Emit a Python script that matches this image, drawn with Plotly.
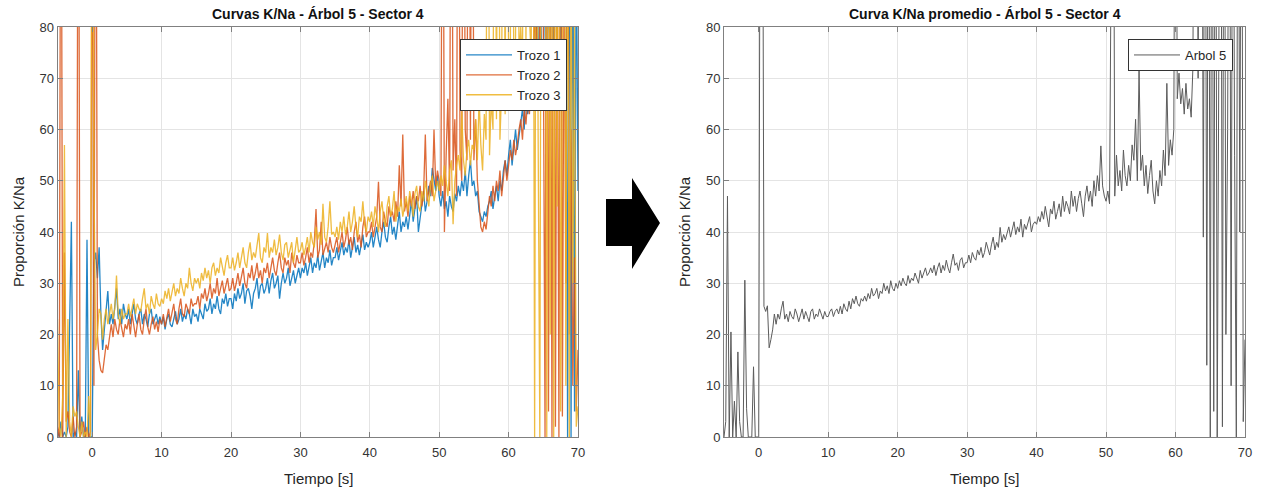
import plotly.graph_objects as go

# sampling grid of the recorded curves (seconds)
t_start = -5.0
t_step = 0.25

# Trozo 1 (blue)
trozo1 = [
    1, 0, 3, 0, 1, 0, 2, 26, 42, 0, 1, 0, 13, 0, 4, 0, 0, 38.5, 0, 0,
    0, 34, 36, 31, 37, 24, 17, 21, 25, 28.5, 22, 24, 22, 26, 29, 23, 25, 22, 26, 24,
    23, 25, 22, 24, 26, 23, 22, 24, 25, 22, 24, 23, 21.5, 24, 25, 22, 23, 24, 22, 23.5,
    22, 23.5, 21, 23, 24, 22, 21.5, 23, 24.5, 22, 23, 25, 22.5, 24, 23, 25, 24, 22, 25, 23.5,
    24, 22.5, 25, 24, 23, 26, 24.5, 25, 27, 24, 26, 25, 27.5, 25, 24, 27, 26, 28, 25.5, 27,
    27, 25, 28, 26.5, 29, 27, 28, 30, 26, 28.5, 29, 27.5, 25, 28, 29, 31, 27, 29.5, 30, 28,
    29, 31, 28, 30.5, 32, 29, 30, 31.5, 27, 30, 32, 30, 31, 33, 29.5, 31, 32.5, 30, 31.5, 33,
    31, 33, 32, 34, 31.5, 33.5, 35, 32, 34, 33, 35.5, 32.5, 34, 36, 33, 35, 34, 36.5, 33.5, 35,
    35, 37, 34.5, 36, 38, 35.5, 37, 36, 38.5, 35, 37, 39, 36, 37.5, 35.5, 38, 39.5, 36.5, 38, 37,
    38, 40, 37, 39, 41, 38.5, 37, 40, 42, 39, 38, 41, 43, 39.5, 41, 38.5, 42, 44, 40, 42,
    41, 43, 40.5, 44, 46, 42, 44.5, 47, 40, 43, 45, 48, 44, 46, 49, 47, 52.5, 50, 48, 51,
    47, 45, 48, 44.5, 46, 43, 47, 45, 44, 47.5, 46, 49, 47, 50, 48, 52, 47, 51, 54, 49,
    50, 47, 48, 44, 43, 42, 44, 43, 45, 46, 48, 44.5, 47, 49, 46, 50, 48, 52, 54, 51,
    55, 58, 53, 57, 60, 56, 59, 62, 64, 60, 68, 63, 66, 70, 64, 72, 85, 68, 90, 75,
    70, 95, 66, 88, 74, 100, 69, 92, 78, 110, 72, 95, 80, 120, 0, 120, 0, 110, 5, 100,
    48,
]

# Trozo 2 (orange)
trozo2 = [
    2, 0, 150, 0, 36, 3, 5, 1, 0, 4, 0, 2, 150, 0, 1, 3, 0, 2, 0, 1,
    120, 10, 150, 20, 15, 13, 12.5, 15, 18, 17, 20, 22, 19.5, 23, 21, 20, 23, 21, 19.5, 22,
    21, 23, 20, 24, 22, 19.5, 22, 24, 21, 20, 23, 25, 21.5, 20, 22, 23.5, 21, 22.5, 20.5, 23,
    22, 24, 21.5, 23, 25, 22.5, 24, 26, 23, 22, 25, 27, 24, 23.5, 26, 25, 24, 27, 25.5, 26,
    26, 27.5, 25, 28, 27, 29, 26.5, 28, 30, 27, 29, 28, 31, 27.5, 29, 30.5, 28, 29.5, 31, 28.5,
    29, 31, 28.5, 30, 32, 29.5, 31, 33, 30, 29, 32, 31, 33.5, 30.5, 32, 34, 31, 32.5, 30, 33,
    32, 34, 31, 33, 35, 32.5, 31.5, 34, 36, 33, 32, 35, 33.5, 34.5, 32, 36, 34, 33, 35.5, 34,
    34, 36, 33.5, 35, 37, 34, 36, 35, 38, 44.5, 35, 36.5, 42, 35.5, 37, 38, 36, 39, 37, 36,
    37.5, 39, 36, 38, 40, 37, 38.5, 41, 37.5, 39, 36.5, 40, 42, 38, 39.5, 37, 41, 43, 39, 40,
    40, 42, 39, 41, 43, 49.8, 41, 40, 44, 42, 41, 45, 43, 44, 42, 46, 43, 53, 45, 59,
    44, 46, 43, 47, 45, 48, 44.5, 47, 46, 49, 45, 47.5, 59, 46, 48, 50, 47, 60, 49, 52,
    50, 47, 150, 40, 55, 66, 48, 150, 52, 62, 47, 150, 56, 50, 150, 60, 54, 150, 58, 150,
    54, 62, 50, 46, 41, 40, 42, 40.5, 44, 47, 45, 49, 46, 50, 48, 52, 47, 51, 54, 50,
    53, 56, 54, 58, 55, 57, 60, 62, 58, 64, 61, 66, 63, 70, 72, 85, 66, 150, 70, 95,
    80, 0, 150, 5, 120, 0, 150, 2, 110, 0, 150, 4, 95, 30, 150, 20, 60, 10, 35, 5,
    17,
]

# Trozo 3 (yellow)
trozo3 = [
    23, 2, 0, 8, 57, 0, 23, 3, 0, 6, 4, 5, 2, 0, 3, 0, 1, 0, 8, 0,
    150, 51, 17, 20, 25, 24, 19, 23, 25, 22, 24, 26, 23, 25, 31.5, 24, 22, 25, 23, 24,
    24, 26, 23.5, 25, 27, 24, 26, 25, 24.5, 27, 29, 25, 26, 24, 27.5, 26, 25, 28, 26, 25.5,
    27, 26, 28.5, 27, 29, 26.5, 28, 30, 27.5, 29, 28, 31, 29, 27.5, 30, 29, 33, 30, 28.5, 31,
    30, 31, 29, 32, 30.5, 33, 31, 32.5, 30, 33, 34, 31.5, 33, 32, 35, 33, 31.5, 34, 35.5, 33,
    33, 35, 32.5, 34, 36, 33, 35.5, 37, 34, 33, 36, 38, 34.5, 36, 35, 37.5, 39.8, 35, 34, 37,
    36, 39.8, 35, 37, 36, 38.5, 35.5, 37, 39.5, 36, 34.5, 37.5, 38, 35, 36.5, 38, 34, 37, 39, 36,
    36.5, 38, 35.5, 37, 39, 36, 40, 38, 37, 41, 38.5, 40, 37.5, 45.5, 39, 38, 41, 46, 39.5, 40,
    39, 41, 38.5, 42, 40, 43, 39.5, 41, 44, 40, 42, 45, 41, 39, 43, 42, 46, 41.5, 40, 43,
    42, 44, 41, 45, 43, 40, 44, 46, 42.5, 41, 45, 47, 43, 44.5, 48, 42, 45, 44, 46.5, 43,
    45, 47, 44, 48, 46, 43, 47.5, 49, 45, 44, 48, 46, 50, 47, 45, 49, 51, 46, 48, 50,
    48, 51, 49, 53, 50, 47, 52, 54, 41.5, 50, 53, 55, 52, 63.5, 54, 51, 56, 58, 53, 57,
    56, 62, 54, 66, 57, 52, 63, 58, 150, 55, 66, 60, 150, 62, 150, 58, 68, 150, 63, 150,
    72, 75, 150, 70, 78, 150, 74, 80, 72, 150, 76, 150, 82, 74, 150, 0, 150, 60, 0, 150,
    85, 150, 0, 150, 20, 150, 0, 130, 45, 150, 5, 90, 150, 10, 120, 0, 100, 30, 80, 2,
    6,
]

# Árbol 5 average (gray)
arbol5 = [
    0, 3, 47, 0, 20.5, 0, 7, 0, 16.6, 3, 0, 0, 30.6, 5.5, 0, 0, 0, 13.7, 0, 0,
    0, 150, 150, 25.5, 24.5, 25.6, 17.4, 19, 20.9, 24, 22, 24, 23, 25, 26.5, 23, 24, 22.5, 24.5, 23.5,
    23, 25, 24, 22.5, 24, 25, 23, 24.5, 23.5, 22.5, 24.5, 25, 23, 24, 23.5, 25, 24, 23, 24.5, 23.5,
    23.5, 24.5, 25, 23.5, 24.5, 25, 24, 25.5, 24, 26, 25, 24.5, 26.5, 25, 27, 26, 27.5, 26, 25.5, 27,
    26.5, 27.5, 26.5, 28, 27, 29, 27.5, 28, 29, 27, 28.5, 28, 30, 28.5, 29.5, 28, 30.5, 29, 28.5, 30,
    29, 30.5, 29.5, 31, 30, 29.5, 31.5, 30, 31, 30.5, 32, 31, 30, 32.5, 31, 32, 33, 31.5, 32, 33,
    32, 33.5, 31.5, 33, 34, 32, 33.5, 32.5, 34.5, 33, 32, 34, 35.7, 33.5, 34, 32.5, 34.5, 35, 33, 34,
    34, 35.5, 34, 36, 35, 34.5, 36.5, 35.5, 37, 35, 36, 38, 36.5, 35.5, 37.5, 39, 36.5, 38, 37, 40.9,
    38, 39.5, 38.5, 40, 41, 39, 40.5, 42, 39.5, 41, 40, 42.5, 39, 41.5, 40.5, 42, 43, 40, 41.5, 42,
    41.5, 43, 42, 44, 42.5, 45, 43, 41, 44.5, 43.5, 46, 42.5, 44, 45.5, 43, 47, 44, 46, 45, 43.5,
    48, 45, 47, 44, 46.5, 48, 45.5, 43, 47, 49, 46, 48, 45, 50, 47, 51, 48, 56.8, 49, 47,
    46, 48, 45.5, 150, 150, 47, 55, 49, 52, 48, 56, 51, 49, 53, 50, 57, 54, 62, 50, 71.5,
    52, 55, 49, 53, 47.5, 51, 54, 48, 45.5, 50, 47, 52, 49, 56, 51, 69, 53, 58, 55, 60,
    150, 66, 71, 65, 68, 63, 69, 64, 66, 62.4, 72, 150, 150, 70, 150, 150, 39, 150, 14, 150,
    0, 150, 5, 150, 0, 80, 150, 2, 150, 20, 60, 150, 10, 150, 55, 0, 150, 40, 150, 3,
    19,
]

x_ticks = [0, 10, 20, 30, 40, 50, 60, 70]
y_ticks = [0, 10, 20, 30, 40, 50, 60, 70, 80]

W, H = 1264, 494


def tgrid(vals):
    return [round(t_start + t_step * i, 3) for i in range(len(vals))]


def px(x):
    return x / W


def py(y):
    return 1 - y / H


FONT = "Liberation Sans, Arial, Helvetica, sans-serif"

fig = go.Figure()
for name, vals, col in [("Trozo 1", trozo1, "#0072BD"),
                        ("Trozo 2", trozo2, "#D95319"),
                        ("Trozo 3", trozo3, "#EDB120")]:
    fig.add_trace(go.Scatter(x=tgrid(vals), y=vals, mode="lines", name=name,
                             line=dict(color=col, width=1.3), opacity=0.85,
                             xaxis="x", yaxis="y", legend="legend",
                             hoverinfo="skip"))

fig.add_trace(go.Scatter(x=tgrid(arbol5), y=arbol5, mode="lines", name="Arbol 5",
                         line=dict(color="#5c5c5c", width=1),
                         xaxis="x2", yaxis="y2", legend="legend2",
                         hoverinfo="skip"))

axis_common = dict(showgrid=True, gridcolor="#e4e4e4", gridwidth=1, zeroline=False,
                   showline=True, linecolor="#808080", linewidth=1, mirror="ticks",
                   ticks="inside", ticklen=5, tickcolor="#808080",
                   tickfont=dict(family=FONT, size=13, color="#333333"))

ydom = [py(437), py(27)]
fig.update_layout(
    width=W, height=H, autosize=False,
    margin=dict(l=0, r=0, t=0, b=0, autoexpand=False),
    paper_bgcolor="white", plot_bgcolor="white",
    xaxis=dict(domain=[px(57.5), px(578)], range=[-5, 70], tickvals=x_ticks,
               anchor="y", ticklabelstandoff=3, **axis_common),
    yaxis=dict(domain=ydom, range=[0, 80], tickvals=y_ticks, anchor="x", **axis_common),
    xaxis2=dict(domain=[px(724), px(1245)], range=[-5, 70], tickvals=x_ticks,
                anchor="y2", ticklabelstandoff=3, **axis_common),
    yaxis2=dict(domain=ydom, range=[0, 80], tickvals=y_ticks, anchor="x2", **axis_common),
    legend=dict(x=px(567), y=py(39), xanchor="right", yanchor="top",
                bgcolor="white", bordercolor="#333333", borderwidth=1,
                font=dict(family=FONT, size=13, color="#262626"),
                tracegroupgap=0, itemwidth=46),
    legend2=dict(x=px(1233), y=py(39), xanchor="right", yanchor="top",
                 bgcolor="white", bordercolor="#333333", borderwidth=1,
                 font=dict(family=FONT, size=13, color="#262626"), itemwidth=46),
    showlegend=True,
)

annots = [
    dict(text="<b>Curvas K/Na - Árbol 5 - Sector 4</b>", x=px(318), y=py(14),
         font=dict(family=FONT, size=14, color="#111111")),
    dict(text="<b>Curva K/Na promedio - Árbol 5 - Sector 4</b>", x=px(984.5), y=py(14),
         font=dict(family=FONT, size=14, color="#111111")),
    dict(text="Tiempo [s]", x=px(318), y=py(478),
         font=dict(family=FONT, size=15, color="#262626")),
    dict(text="Tiempo [s]", x=px(984.5), y=py(478),
         font=dict(family=FONT, size=15, color="#262626")),
    dict(text="Proporción K/Na", x=px(18), y=py(232), textangle=-90,
         font=dict(family=FONT, size=15, color="#262626")),
    dict(text="Proporción K/Na", x=px(684), y=py(232), textangle=-90,
         font=dict(family=FONT, size=15, color="#262626")),
]
for a in annots:
    fig.add_annotation(xref="paper", yref="paper", showarrow=False,
                       xanchor="center", yanchor="middle", **a)

# block arrow between the panels
pts = [(606, 199), (632, 199), (632, 178), (660, 223), (632, 269), (632, 246), (606, 246)]
path = "M " + " L ".join(f"{px(x):.5f},{py(y):.5f}" for x, y in pts) + " Z"
fig.add_shape(type="path", xref="paper", yref="paper", path=path,
              fillcolor="black", line=dict(color="black", width=0))

fig.write_html(
    "out.html",
    post_script=("document.documentElement.style.margin='0';"
                 "document.body.style.margin='0';"
                 "document.body.style.overflow='hidden';"),
)
